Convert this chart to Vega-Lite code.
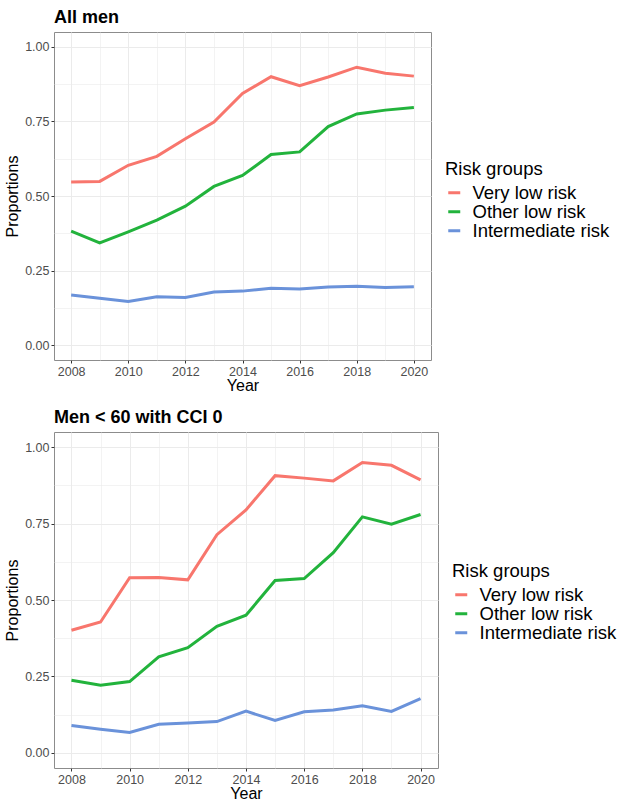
{
  "$schema": "https://vega.github.io/schema/vega-lite/v6.json",
  "background": "white",
  "padding": {"left": 4, "top": 8, "right": 0, "bottom": 0},
  "spacing": 14,
  "datasets": {
    "allmen": [
      {"year": 2008, "group": "Very low risk", "value": 0.547},
      {"year": 2009, "group": "Very low risk", "value": 0.549},
      {"year": 2010, "group": "Very low risk", "value": 0.603},
      {"year": 2011, "group": "Very low risk", "value": 0.633},
      {"year": 2012, "group": "Very low risk", "value": 0.692},
      {"year": 2013, "group": "Very low risk", "value": 0.748},
      {"year": 2014, "group": "Very low risk", "value": 0.844},
      {"year": 2015, "group": "Very low risk", "value": 0.900},
      {"year": 2016, "group": "Very low risk", "value": 0.870},
      {"year": 2017, "group": "Very low risk", "value": 0.899},
      {"year": 2018, "group": "Very low risk", "value": 0.932},
      {"year": 2019, "group": "Very low risk", "value": 0.912},
      {"year": 2020, "group": "Very low risk", "value": 0.902},
      {"year": 2008, "group": "Other low risk", "value": 0.382},
      {"year": 2009, "group": "Other low risk", "value": 0.343},
      {"year": 2010, "group": "Other low risk", "value": 0.380},
      {"year": 2011, "group": "Other low risk", "value": 0.419},
      {"year": 2012, "group": "Other low risk", "value": 0.466},
      {"year": 2013, "group": "Other low risk", "value": 0.532},
      {"year": 2014, "group": "Other low risk", "value": 0.569},
      {"year": 2015, "group": "Other low risk", "value": 0.639},
      {"year": 2016, "group": "Other low risk", "value": 0.648},
      {"year": 2017, "group": "Other low risk", "value": 0.733},
      {"year": 2018, "group": "Other low risk", "value": 0.775},
      {"year": 2019, "group": "Other low risk", "value": 0.788},
      {"year": 2020, "group": "Other low risk", "value": 0.797},
      {"year": 2008, "group": "Intermediate risk", "value": 0.168},
      {"year": 2009, "group": "Intermediate risk", "value": 0.157},
      {"year": 2010, "group": "Intermediate risk", "value": 0.146},
      {"year": 2011, "group": "Intermediate risk", "value": 0.162},
      {"year": 2012, "group": "Intermediate risk", "value": 0.160},
      {"year": 2013, "group": "Intermediate risk", "value": 0.178},
      {"year": 2014, "group": "Intermediate risk", "value": 0.181},
      {"year": 2015, "group": "Intermediate risk", "value": 0.191},
      {"year": 2016, "group": "Intermediate risk", "value": 0.188},
      {"year": 2017, "group": "Intermediate risk", "value": 0.195},
      {"year": 2018, "group": "Intermediate risk", "value": 0.197},
      {"year": 2019, "group": "Intermediate risk", "value": 0.193},
      {"year": 2020, "group": "Intermediate risk", "value": 0.196}
    ],
    "young": [
      {"year": 2008, "group": "Very low risk", "value": 0.401},
      {"year": 2009, "group": "Very low risk", "value": 0.428},
      {"year": 2010, "group": "Very low risk", "value": 0.573},
      {"year": 2011, "group": "Very low risk", "value": 0.574},
      {"year": 2012, "group": "Very low risk", "value": 0.566},
      {"year": 2013, "group": "Very low risk", "value": 0.714},
      {"year": 2014, "group": "Very low risk", "value": 0.795},
      {"year": 2015, "group": "Very low risk", "value": 0.907},
      {"year": 2016, "group": "Very low risk", "value": 0.899},
      {"year": 2017, "group": "Very low risk", "value": 0.890},
      {"year": 2018, "group": "Very low risk", "value": 0.950},
      {"year": 2019, "group": "Very low risk", "value": 0.941},
      {"year": 2020, "group": "Very low risk", "value": 0.893},
      {"year": 2008, "group": "Other low risk", "value": 0.237},
      {"year": 2009, "group": "Other low risk", "value": 0.221},
      {"year": 2010, "group": "Other low risk", "value": 0.233},
      {"year": 2011, "group": "Other low risk", "value": 0.314},
      {"year": 2012, "group": "Other low risk", "value": 0.344},
      {"year": 2013, "group": "Other low risk", "value": 0.414},
      {"year": 2014, "group": "Other low risk", "value": 0.450},
      {"year": 2015, "group": "Other low risk", "value": 0.564},
      {"year": 2016, "group": "Other low risk", "value": 0.570},
      {"year": 2017, "group": "Other low risk", "value": 0.655},
      {"year": 2018, "group": "Other low risk", "value": 0.772},
      {"year": 2019, "group": "Other low risk", "value": 0.748},
      {"year": 2020, "group": "Other low risk", "value": 0.780},
      {"year": 2008, "group": "Intermediate risk", "value": 0.089},
      {"year": 2009, "group": "Intermediate risk", "value": 0.077},
      {"year": 2010, "group": "Intermediate risk", "value": 0.066},
      {"year": 2011, "group": "Intermediate risk", "value": 0.093},
      {"year": 2012, "group": "Intermediate risk", "value": 0.097},
      {"year": 2013, "group": "Intermediate risk", "value": 0.102},
      {"year": 2014, "group": "Intermediate risk", "value": 0.136},
      {"year": 2015, "group": "Intermediate risk", "value": 0.106},
      {"year": 2016, "group": "Intermediate risk", "value": 0.134},
      {"year": 2017, "group": "Intermediate risk", "value": 0.140},
      {"year": 2018, "group": "Intermediate risk", "value": 0.154},
      {"year": 2019, "group": "Intermediate risk", "value": 0.135},
      {"year": 2020, "group": "Intermediate risk", "value": 0.177}
    ]
  },
  "config": {
    "font": "Liberation Sans",
    "view": {"stroke": "#8C8C8C", "strokeWidth": 1},
    "title": {"anchor": "start", "frame": "group", "fontSize": 18, "fontWeight": "bold", "color": "#000000", "offset": 5},
    "axis": {
      "domain": false,
      "labelFontSize": 12.5,
      "labelColor": "#4D4D4D",
      "labelPadding": 2,
      "tickColor": "#333333",
      "tickSize": 3,
      "titleFontSize": 16,
      "titleFontWeight": "normal",
      "titleColor": "#000000",
      "gridColor": "#EBEBEB"
    },
    "axisX": {"titlePadding": 0},
    "axisY": {"titlePadding": 4},
    "legend": {
      "titleFontSize": 18.5,
      "titleFontWeight": "normal",
      "titleColor": "#000000",
      "titlePadding": 5,
      "labelFontSize": 18.5,
      "labelColor": "#000000",
      "labelOffset": 9,
      "rowPadding": -1.5,
      "symbolType": "stroke",
      "symbolSize": 144,
      "symbolStrokeWidth": 2.6
    },
    "line": {"strokeWidth": 3}
  },
  "resolve": {"legend": {"color": "independent"}},
  "vconcat": [
    {
      "title": "All men",
      "width": 377,
      "height": 328,
      "data": {"name": "allmen"},
      "mark": {"type": "line"},
      "encoding": {
        "x": {
          "field": "year", "type": "quantitative", "title": "Year",
          "scale": {"domain": [2007.4, 2020.6], "nice": false, "zero": false},
          "axis": {
            "values": [2008, 2009, 2010, 2011, 2012, 2013, 2014, 2015, 2016, 2017, 2018, 2019, 2020],
            "format": "d",
            "labelExpr": "datum.value % 2 == 0 ? datum.label : ''",
            "tickOpacity": {"condition": {"test": "datum.value % 2 == 0", "value": 1}, "value": 0},
            "gridWidth": {"condition": {"test": "datum.value % 2 == 0", "value": 1}, "value": 0.6}
          }
        },
        "y": {
          "field": "value", "type": "quantitative", "title": "Proportions",
          "scale": {"domain": [-0.05, 1.05], "nice": false, "zero": false},
          "axis": {
            "values": [0, 0.125, 0.25, 0.375, 0.5, 0.625, 0.75, 0.875, 1],
            "format": ".2f",
            "labelExpr": "datum.value % 0.25 == 0 ? datum.label : ''",
            "tickOpacity": {"condition": {"test": "datum.value % 0.25 == 0", "value": 1}, "value": 0},
            "gridWidth": {"condition": {"test": "datum.value % 0.25 == 0", "value": 1}, "value": 0.6}
          }
        },
        "color": {
          "field": "group", "type": "nominal", "title": "Risk groups",
          "scale": {
            "domain": ["Very low risk", "Other low risk", "Intermediate risk"],
            "range": ["#F8766D", "#22B33C", "#6A92DA"]
          },
          "legend": {"orient": "none", "legendX": 391, "legendY": 128}
        }
      }
    },
    {
      "title": "Men < 60 with CCI 0",
      "width": 384,
      "height": 336,
      "data": {"name": "young"},
      "mark": {"type": "line"},
      "encoding": {
        "x": {
          "field": "year", "type": "quantitative", "title": "Year",
          "scale": {"domain": [2007.4, 2020.6], "nice": false, "zero": false},
          "axis": {
            "values": [2008, 2009, 2010, 2011, 2012, 2013, 2014, 2015, 2016, 2017, 2018, 2019, 2020],
            "format": "d",
            "labelExpr": "datum.value % 2 == 0 ? datum.label : ''",
            "tickOpacity": {"condition": {"test": "datum.value % 2 == 0", "value": 1}, "value": 0},
            "gridWidth": {"condition": {"test": "datum.value % 2 == 0", "value": 1}, "value": 0.6}
          }
        },
        "y": {
          "field": "value", "type": "quantitative", "title": "Proportions",
          "scale": {"domain": [-0.05, 1.05], "nice": false, "zero": false},
          "axis": {
            "values": [0, 0.125, 0.25, 0.375, 0.5, 0.625, 0.75, 0.875, 1],
            "format": ".2f",
            "labelExpr": "datum.value % 0.25 == 0 ? datum.label : ''",
            "tickOpacity": {"condition": {"test": "datum.value % 0.25 == 0", "value": 1}, "value": 0},
            "gridWidth": {"condition": {"test": "datum.value % 0.25 == 0", "value": 1}, "value": 0.6}
          }
        },
        "color": {
          "field": "group", "type": "nominal", "title": "Risk groups",
          "scale": {
            "domain": ["Very low risk", "Other low risk", "Intermediate risk"],
            "range": ["#F8766D", "#22B33C", "#6A92DA"]
          },
          "legend": {"orient": "none", "legendX": 398, "legendY": 130}
        }
      }
    }
  ]
}
